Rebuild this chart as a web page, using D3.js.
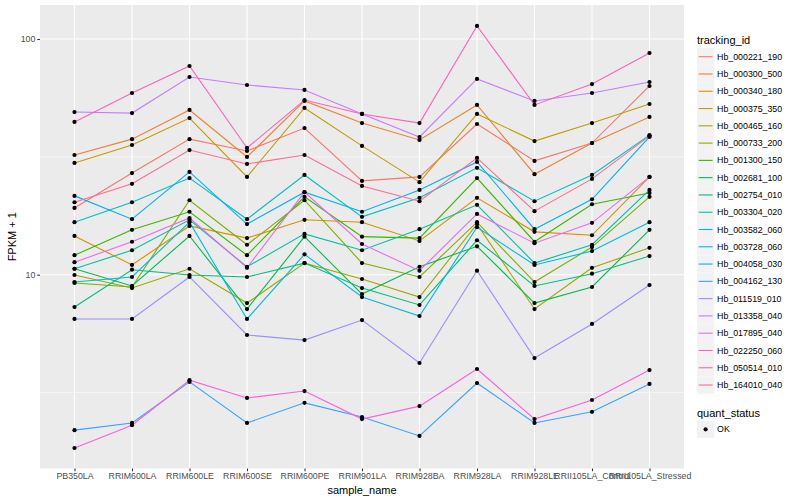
<!DOCTYPE html>
<html>
<head>
<meta charset="utf-8">
<script src="https://cdn.jsdelivr.net/npm/d3@7"></script>
<style>
  body { margin: 0; background: #fff; }
  text { font-family: "Liberation Sans", Arial, Helvetica, sans-serif; }
</style>
</head>
<body>
<svg id="chart" width="800" height="500"></svg>
<script>
(function () {
    'use strict';

    const samples = ['PB350LA', 'RRIM600LA', 'RRIM600LE', 'RRIM600SE', 'RRIM600PE', 'RRIM901LA',
        'RRIM928BA', 'RRIM928LA', 'RRIM928LE', 'RRII105LA_Control', 'RRII105LA_Stressed'];

    const trackingIds = ['Hb_000221_190', 'Hb_000300_500', 'Hb_000340_180', 'Hb_000375_350',
        'Hb_000465_160', 'Hb_000733_200', 'Hb_001300_150', 'Hb_002681_100', 'Hb_002754_010',
        'Hb_003304_020', 'Hb_003582_060', 'Hb_003728_060', 'Hb_004058_030', 'Hb_004162_130',
        'Hb_011519_010', 'Hb_013358_040', 'Hb_017895_040', 'Hb_022250_060', 'Hb_050514_010',
        'Hb_164010_040'];

    // FPKM + 1, one row per tracking id, one column per sample
    const fpkmPlus1 = [
        [19.2, 27.0, 37.6, 33.5, 41.9, 25.0, 26.0, 43.6, 30.4, 36.2, 63.2],
        [32.2, 37.6, 50.0, 31.6, 54.6, 44.0, 37.3, 52.5, 26.7, 36.2, 46.7],
        [14.6, 11.0, 16.1, 14.3, 17.1, 16.7, 13.9, 21.2, 15.2, 14.7, 26.0],
        [29.8, 35.5, 46.2, 26.0, 51.0, 35.2, 24.7, 48.1, 36.9, 44.0, 53.0],
        [9.97, 8.78, 10.6, 7.58, 11.2, 9.59, 8.04, 16.4, 7.15, 10.7, 13.0],
        [9.22, 8.87, 20.7, 13.4, 20.7, 11.2, 9.78, 16.7, 9.31, 13.1, 21.4],
        [12.1, 15.5, 18.5, 12.1, 21.4, 14.5, 14.3, 25.7, 13.8, 19.9, 22.2],
        [10.6, 8.96, 14.6, 7.15, 14.5, 8.28, 10.8, 13.2, 7.58, 8.87, 15.5],
        [7.29, 10.5, 9.97, 9.78, 11.2, 8.78, 7.44, 14.0, 8.96, 10.1, 12.0],
        [10.6, 12.7, 17.1, 10.8, 14.9, 12.7, 15.6, 19.8, 11.2, 13.4, 22.9],
        [16.7, 20.3, 25.7, 17.2, 26.5, 17.6, 21.2, 28.4, 20.5, 26.5, 39.1],
        [9.31, 9.78, 16.7, 6.49, 12.2, 8.04, 6.68, 15.9, 11.0, 12.6, 16.7],
        [21.6, 17.2, 27.3, 16.4, 22.4, 18.5, 22.9, 30.1, 15.6, 20.9, 38.4],
        [2.19, 2.35, 3.51, 2.35, 2.86, 2.49, 2.07, 3.47, 2.35, 2.62, 3.44],
        [6.49, 6.49, 9.78, 5.55, 5.28, 6.42, 4.22, 10.4, 4.43, 6.18, 9.04],
        [49.0, 48.5, 69.0, 63.8, 60.8, 48.1, 38.4, 67.7, 54.6, 59.0, 65.7],
        [11.3, 13.8, 17.4, 10.7, 22.4, 13.5, 10.4, 18.1, 13.6, 16.6, 26.0],
        [1.84, 2.30, 3.57, 3.00, 3.21, 2.44, 2.77, 3.98, 2.44, 2.94, 3.94],
        [44.5, 59.0, 76.8, 34.5, 55.1, 48.1, 44.0, 113.6, 52.5, 64.4, 87.2],
        [20.3, 24.3, 33.8, 29.5, 32.2, 23.8, 20.5, 31.3, 18.6, 25.5, 38.8]
    ];

    const quantStatus = ['OK'];
    const yTicks = [10, 100];
    const yMinor = [Math.sqrt(10), Math.sqrt(1000)];

    const palette = ['#F8766D', '#EA8331', '#D89000', '#C09B00', '#A3A500', '#7CAE00', '#39B600',
        '#00BB4E', '#00BF7D', '#00C1A3', '#00BFC4', '#00BAE0', '#00B0F6', '#35A2FF', '#9590FF',
        '#C77CFF', '#E76BF3', '#FA62DB', '#FF62BC', '#FF6C91'];

    const panel = { left: 40, right: 684, top: 5, bottom: 468.5 };

    const x = d3.scalePoint()
        .domain(samples)
        .range([panel.left, panel.right])
        .padding(0.6);

    const y = d3.scaleLog()
        .domain([1.506, 139.4])
        .range([panel.bottom, panel.top]);

    const color = d3.scaleOrdinal().domain(trackingIds).range(palette);

    const svg = d3.select('#chart');

    svg.append('rect')
        .attr('x', panel.left).attr('y', panel.top)
        .attr('width', panel.right - panel.left).attr('height', panel.bottom - panel.top)
        .attr('fill', '#ebebeb');

    const grid = svg.append('g');
    grid.selectAll('line.minor').data(yMinor).enter().append('line')
        .attr('x1', panel.left).attr('x2', panel.right)
        .attr('y1', d => y(d)).attr('y2', d => y(d))
        .attr('stroke', '#fff').attr('stroke-width', 0.55);
    grid.selectAll('line.majory').data(yTicks).enter().append('line')
        .attr('x1', panel.left).attr('x2', panel.right)
        .attr('y1', d => y(d)).attr('y2', d => y(d))
        .attr('stroke', '#fff').attr('stroke-width', 1.1);
    grid.selectAll('line.majorx').data(samples).enter().append('line')
        .attr('x1', d => x(d)).attr('x2', d => x(d))
        .attr('y1', panel.top).attr('y2', panel.bottom)
        .attr('stroke', '#fff').attr('stroke-width', 1.1);

    const line = d3.line()
        .x((d, i) => x(samples[i]))
        .y(d => y(d));

    svg.append('g').selectAll('path').data(fpkmPlus1).enter().append('path')
        .attr('d', d => line(d))
        .attr('fill', 'none')
        .attr('stroke', (d, i) => color(trackingIds[i]))
        .attr('stroke-width', 1.1);

    const pts = [];
    fpkmPlus1.forEach(row => row.forEach((v, j) => pts.push([samples[j], v])));
    svg.append('g').selectAll('circle').data(pts).enter().append('circle')
        .attr('cx', d => x(d[0]))
        .attr('cy', d => y(d[1]))
        .attr('r', 2.1)
        .attr('fill', '#000');

    // axes
    const xAxis = svg.append('g')
        .attr('transform', `translate(0,${panel.bottom})`)
        .call(d3.axisBottom(x).tickSize(2.7).tickPadding(2));
    const yAxis = svg.append('g')
        .attr('transform', `translate(${panel.left},0)`)
        .call(d3.axisLeft(y).tickValues(yTicks).tickFormat(d3.format('d')).tickSize(2.7).tickPadding(2));
    [xAxis, yAxis].forEach(a => {
        a.select('.domain').remove();
        a.selectAll('.tick line').attr('stroke', '#333').attr('stroke-width', 1.1);
        a.selectAll('.tick text').attr('fill', '#4d4d4d').style('font-size', '8.8px')
            .style('font-family', '"Liberation Sans", Arial, sans-serif');
    });

    svg.append('text')
        .attr('x', (panel.left + panel.right) / 2).attr('y', 494)
        .attr('text-anchor', 'middle').style('font-size', '11px')
        .text('sample_name');

    svg.append('text')
        .attr('transform', `translate(16,${(panel.top + panel.bottom) / 2}) rotate(-90)`)
        .attr('text-anchor', 'middle').style('font-size', '11px')
        .text('FPKM + 1');

    // legend
    const lx = 697, step = 17.28, first = 56.7, key = 17.28;
    const legend = svg.append('g');
    legend.append('text').attr('x', lx).attr('y', 43.5).style('font-size', '11px').text('tracking_id');
    const items = legend.selectAll('g.item').data(trackingIds).enter().append('g')
        .attr('transform', (d, i) => `translate(${lx},${first + i * step})`);
    items.append('rect')
        .attr('x', 0).attr('y', -key / 2).attr('width', key).attr('height', key)
        .attr('fill', '#f2f2f2');
    items.append('line')
        .attr('x1', 1.7).attr('x2', key - 1.7).attr('y1', 0).attr('y2', 0)
        .attr('stroke', d => color(d)).attr('stroke-width', 1.1);
    items.append('text')
        .attr('x', key + 2.8).attr('y', 3.1)
        .style('font-size', '8.8px')
        .text(d => d);

    legend.append('text').attr('x', lx).attr('y', 416.5).style('font-size', '11px').text('quant_status');
    const q = legend.selectAll('g.q').data(quantStatus).enter().append('g')
        .attr('transform', (d, i) => `translate(${lx},${429.3 + i * step})`);
    q.append('rect')
        .attr('x', 0).attr('y', -key / 2).attr('width', key).attr('height', key)
        .attr('fill', '#f2f2f2');
    q.append('circle').attr('cx', key / 2).attr('cy', 0).attr('r', 2.1).attr('fill', '#000');
    q.append('text')
        .attr('x', key + 2.8).attr('y', 3.1)
        .style('font-size', '8.8px')
        .text(d => d);
})();
</script>
</body>
</html>
